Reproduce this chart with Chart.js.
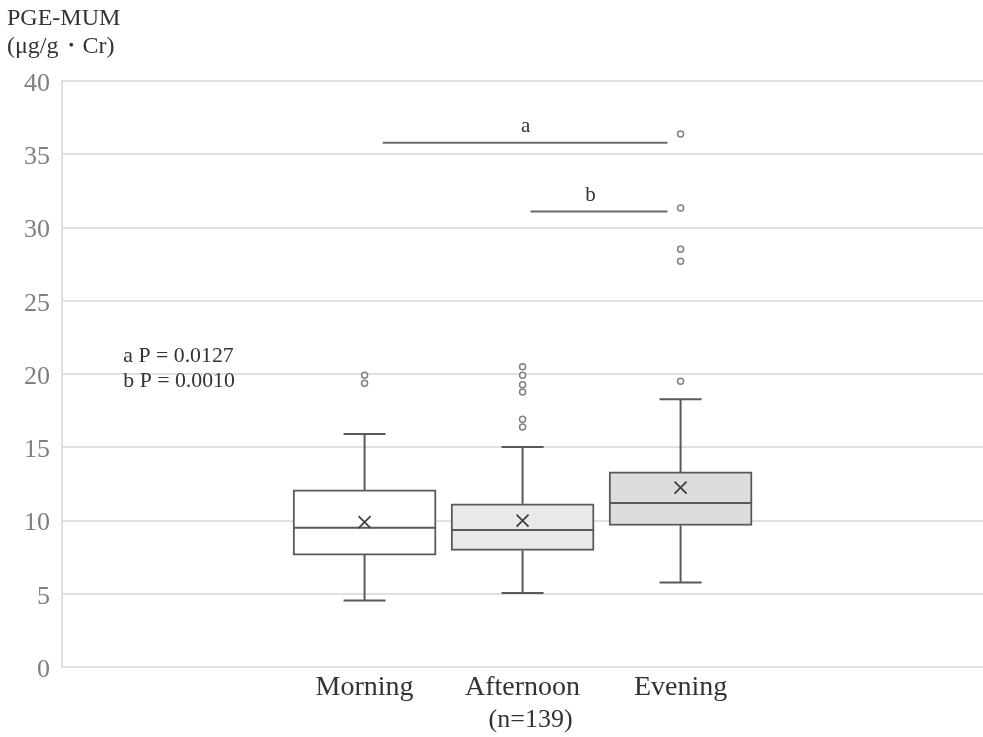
<!DOCTYPE html>
<html>
<head>
<meta charset="utf-8">
<script src="https://cdn.jsdelivr.net/npm/chart.js@4.4.1/dist/chart.umd.min.js"></script>
<style>
  html, body { margin: 0; padding: 0; background: #fff; overflow: hidden; }
  #wrap { position: relative; width: 983px; height: 737px; }
  canvas { display: block; }
</style>
</head>
<body>
<div id="wrap"><canvas id="boxChart"></canvas></div>
<script>
// values
const groups = ['Morning', 'Afternoon', 'Evening'];
const groupX = [1, 2, 3];
const lowWhisker = [4.54, 5.05, 5.77];
const q1 = [7.64, 7.96, 9.66];
const median = [9.50, 9.35, 11.19];
const q3 = [12.09, 11.14, 13.32];
const highWhisker = [15.91, 15.03, 18.28];
const means = [9.89, 10.0, 12.25];
const outliers = [
    [19.92, 19.37],
    [20.5, 19.92, 19.28, 18.78, 16.92, 16.39],
    [36.4, 31.35, 28.53, 27.71, 19.51]
];
const boxColors = ['#ffffff', '#e9e9e9', '#dddddd'];
const yTicks = [0, 5, 10, 15, 20, 25, 30, 35, 40];

// significance brackets: [from x, to x, y, label, label x, label y]
const brackets = [
    [1.115, 2.917, 35.8, 'a', 2.02, 36.55],
    [2.05, 2.917, 31.1, 'b', 2.43, 31.8]
];
const pValues = ['a P = 0.0127', 'b P = 0.0010'];

const lineColor = '#595959';
const halfBox = 0.4525;
const halfCap = 0.133;

function segment(x1, y1, x2, y2, color) {
    return {
        type: 'line',
        data: [{x: x1, y: y1}, {x: x2, y: y2}],
        borderColor: color || lineColor,
        borderWidth: 2,
        pointRadius: 0,
        fill: false,
        order: 1
    };
}

let datasets = [];

// boxes as floating bars
datasets.push({
    type: 'bar',
    data: groupX.map((x, i) => ({x: x, y: [q1[i], q3[i]]})),
    backgroundColor: boxColors,
    borderColor: lineColor,
    borderWidth: 2,
    borderSkipped: false,
    barThickness: 143,
    order: 10
});

groupX.forEach((x, i) => {
    datasets.push(segment(x - halfBox, median[i], x + halfBox, median[i]));
    datasets.push(segment(x, q3[i], x, highWhisker[i]));
    datasets.push(segment(x, q1[i], x, lowWhisker[i]));
    datasets.push(segment(x - halfCap, highWhisker[i], x + halfCap, highWhisker[i]));
    datasets.push(segment(x - halfCap, lowWhisker[i], x + halfCap, lowWhisker[i]));
});

brackets.forEach(b => {
    datasets.push(segment(b[0], b[2], b[1], b[2], '#6a6a6a'));
});

// means
datasets.push({
    type: 'scatter',
    data: groupX.map((x, i) => ({x: x, y: means[i]})),
    pointStyle: 'crossRot',
    pointRadius: 8.5,
    borderColor: '#404040',
    borderWidth: 1.8,
    order: 0
});

// outliers
let outlierPoints = [];
outliers.forEach((list, i) => {
    list.forEach(v => outlierPoints.push({x: groupX[i], y: v}));
});
datasets.push({
    type: 'scatter',
    data: outlierPoints,
    pointStyle: 'circle',
    pointRadius: 3,
    backgroundColor: '#ffffff',
    borderColor: '#808080',
    borderWidth: 1.5,
    order: 0
});

const textPlugin = {
    id: 'notes',
    afterDraw(chart) {
        const ctx = chart.ctx;
        const xs = chart.scales.x, ys = chart.scales.y;
        ctx.save();
        ctx.fillStyle = '#333333';
        ctx.textBaseline = 'alphabetic';
        ctx.font = '21px "Liberation Serif"';
        ctx.textAlign = 'center';
        brackets.forEach(b => {
            ctx.fillText(b[3], xs.getPixelForValue(b[4]), ys.getPixelForValue(b[5]));
        });
        ctx.textAlign = 'left';
        ctx.font = '21.8px "Liberation Serif"';
        ctx.fillText(pValues[0], xs.getPixelForValue(-0.527), ys.getPixelForValue(20.85));
        ctx.fillText(pValues[1], xs.getPixelForValue(-0.527), ys.getPixelForValue(19.15));
        ctx.textAlign = 'center';
        ctx.font = '26px "Liberation Serif"';
        ctx.fillText('(n=139)', xs.getPixelForValue(2) + 8, chart.chartArea.bottom + 60);
        ctx.restore();
    }
};

new Chart('boxChart', {
    type: 'scatter',
    data: {datasets: datasets},
    options: {
        responsive: true,
        maintainAspectRatio: false,
        animation: false,
        events: [],
        layout: {autoPadding: false, padding: {left: 7, right: 0, top: 0, bottom: 0}},
        plugins: {
            legend: {display: false},
            tooltip: {enabled: false},
            title: {
                display: true,
                align: 'start',
                text: ['PGE-MUM', '(μg/g・Cr)'],
                color: '#333333',
                font: {family: '"Liberation Serif"', size: 24, weight: 'normal', lineHeight: 1.15},
                padding: {top: 5, bottom: 21}
            }
        },
        scales: {
            x: {
                type: 'linear',
                min: -0.915,
                max: 4.914,
                offset: false,
                grid: {display: false, drawTicks: false},
                border: {display: false},
                afterBuildTicks: scale => {
                    scale.ticks = groupX.map(v => ({value: v}));
                },
                afterFit: scale => {
                    scale.height = 70;
                    scale.paddingLeft = 0;
                    scale.paddingRight = 0;
                },
                ticks: {
                    padding: 4,
                    color: '#333333',
                    font: {family: '"Liberation Serif"', size: 28},
                    callback: value => groups[groupX.indexOf(value)]
                }
            },
            y: {
                min: 0,
                max: 40,
                afterBuildTicks: scale => {
                    scale.ticks = yTicks.map(v => ({value: v}));
                },
                afterFit: scale => {
                    scale.width = 55;
                    scale.paddingLeft = 0;
                    scale.paddingRight = 0;
                },
                grid: {color: '#e0e0e0', lineWidth: 2, drawTicks: false},
                border: {color: '#e0e0e0', width: 2},
                ticks: {
                    padding: 12,
                    labelOffset: 3,
                    color: '#7f7f7f',
                    font: {family: '"Liberation Serif"', size: 26}
                }
            }
        }
    },
    plugins: [textPlugin]
});
</script>
</body>
</html>
